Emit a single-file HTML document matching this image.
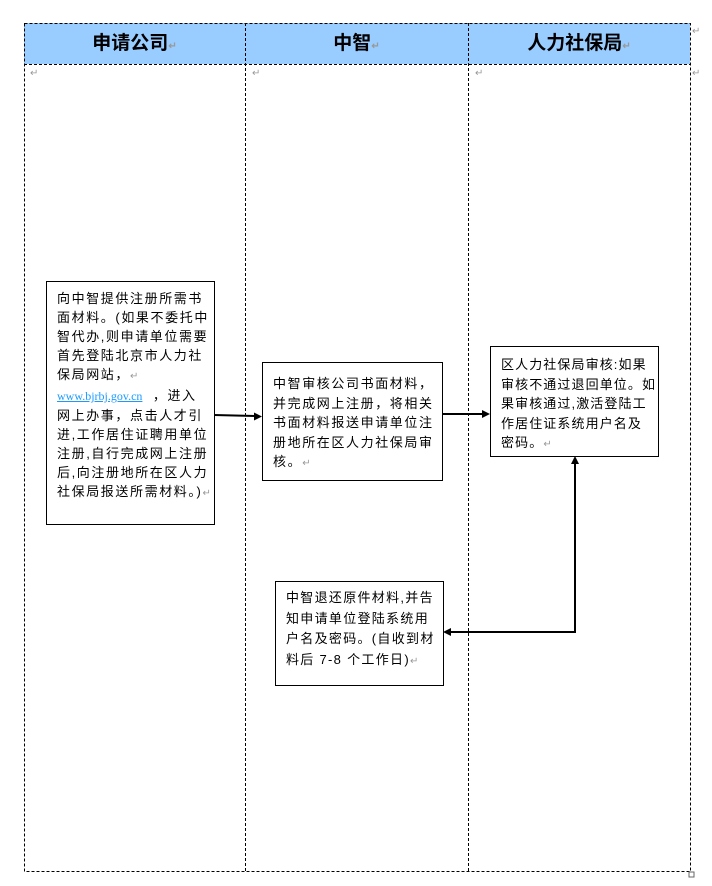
<!DOCTYPE html>
<html><head><meta charset="utf-8"><style>
body{margin:0;width:712px;height:886px;background:#fff;position:relative;font-family:"Liberation Sans","Noto Sans CJK SC",sans-serif;overflow:hidden}
.a{position:absolute}
.h{background:#99ccff;top:23px;height:41px;font-size:19px;font-weight:bold;text-align:center;line-height:41px;color:#000}
.b{position:absolute;border:1px solid #000;background:#fff;font-size:13px;line-height:19.5px;color:#000;box-sizing:border-box;padding:5px 0 0 10px;letter-spacing:1.6px;white-space:nowrap;overflow:hidden}
.rm{color:#999;font-size:10px;letter-spacing:0}
</style></head><body>
<div class="a h" style="left:24px;width:221px">申请公司<span class="rm">↵</span></div>
<div class="a h" style="left:245px;width:223px">中智<span class="rm">↵</span></div>
<div class="a h" style="left:468px;width:222px">人力社保局<span class="rm">↵</span></div>
<svg class="a" style="left:0;top:0" width="712" height="886">
<g stroke="#000" stroke-width="1" stroke-dasharray="3,2" fill="none">
<rect x="24.5" y="23.5" width="666" height="848"/>
<line x1="24" y1="64.5" x2="690" y2="64.5"/>
<line x1="245.5" y1="23" x2="245.5" y2="871"/>
<line x1="468.5" y1="23" x2="468.5" y2="871"/>
</g>
<rect x="689" y="872" width="5" height="5" fill="none" stroke="#666"/>
<g stroke="#000" stroke-width="2" fill="none">
<line x1="214" y1="415" x2="255" y2="416"/>
<line x1="442" y1="414" x2="484" y2="414"/>
<polyline points="575,462 575,632 450,632"/>
</g>
<g fill="#000">
<polygon points="262,416.5 254,412.5 254,420.5"/>
<polygon points="490,414 482,410 482,418"/>
<polygon points="575,456 571,464 579,464"/>
<polygon points="443,632 451,628 451,636"/>
</g>
</svg>
<div class="a rm" style="left:30px;top:68px">↵</div>
<div class="a rm" style="left:252px;top:68px">↵</div>
<div class="a rm" style="left:475px;top:68px">↵</div>
<div class="a rm" style="left:692px;top:68px">↵</div>
<div class="a rm" style="left:692px;top:26px">↵</div>
<div class="b" style="left:46px;top:281px;width:169px;height:244px;padding-top:7px;line-height:19px">向中智提供注册所需书<br>面材料。(如果不委托中<br>智代办,则申请单位需要<br>首先登陆北京市人力社<br>保局网站，<span class="rm">↵</span><br><span style="color:#1a9bff;text-decoration:underline;font-family:'Liberation Serif',serif;font-size:12px;letter-spacing:0">www.bjrbj.gov.cn</span> &nbsp;，进入<br>网上办事，点击人才引<br>进,工作居住证聘用单位<br>注册,自行完成网上注册<br>后,向注册地所在区人力<br>社保局报送所需材料。)<span class="rm">↵</span></div>
<div class="b" style="left:262px;top:362px;width:181px;height:119px;padding-top:11px">中智审核公司书面材料，<br>并完成网上注册，将相关<br>书面材料报送申请单位注<br>册地所在区人力社保局审<br>核。<span class="rm">↵</span></div>
<div class="b" style="left:490px;top:346px;width:169px;height:111px;padding-top:8px;letter-spacing:1.1px">区人力社保局审核:如果<br>审核不通过退回单位。如<br>果审核通过,激活登陆工<br>作居住证系统用户名及<br>密码。<span class="rm">↵</span></div>
<div class="b" style="left:275px;top:581px;width:169px;height:105px;padding-top:6px;line-height:20.5px;letter-spacing:1.3px">中智退还原件材料,并告<br>知申请单位登陆系统用<br>户名及密码。(自收到材<br>料后 7-8 个工作日)<span class="rm">↵</span></div>
</body></html>
